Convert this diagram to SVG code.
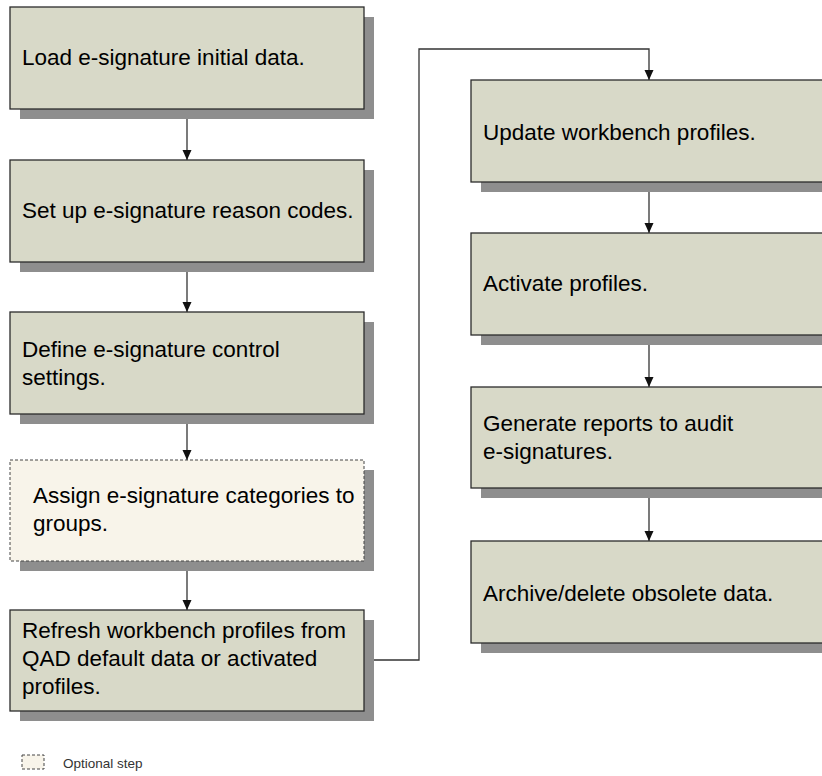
<svg xmlns="http://www.w3.org/2000/svg" width="822" height="776" viewBox="0 0 822 776">
<defs>
<style>
.box{fill:#D8D9C8;stroke:#2b2b2b;stroke-width:1.3}
.opt{fill:#F8F4EA;stroke:#444;stroke-width:1;stroke-dasharray:3 2}
.sh{fill:#8E8E8E}
.t{font-family:"Liberation Sans",Arial,sans-serif;font-size:22.5px;fill:#000}
.lg{font-family:"Liberation Sans",Arial,sans-serif;font-size:13.5px;fill:#333}
.c{fill:none;stroke:#333;stroke-width:1.3}
</style>
<marker id="ah" markerWidth="11" markerHeight="11" refX="10" refY="5.5" orient="auto" markerUnits="userSpaceOnUse">
<path d="M0,1 L10,5.5 L0,10 Z" fill="#111"/>
</marker>
</defs>
<rect width="822" height="776" fill="#fff"/>

<g id="connectors">
<line class="c" x1="187" y1="109" x2="187" y2="160" marker-end="url(#ah)"/>
<line class="c" x1="187" y1="262" x2="187" y2="312" marker-end="url(#ah)"/>
<line class="c" x1="187" y1="414" x2="187" y2="460" marker-end="url(#ah)"/>
<line class="c" x1="187" y1="561" x2="187" y2="610" marker-end="url(#ah)"/>
<polyline class="c" points="364,660 419,660 419,49 649,49 649,80" marker-end="url(#ah)"/>
<line class="c" x1="649" y1="182" x2="649" y2="233" marker-end="url(#ah)"/>
<line class="c" x1="649" y1="335" x2="649" y2="387" marker-end="url(#ah)"/>
<line class="c" x1="649" y1="488" x2="649" y2="541" marker-end="url(#ah)"/>
</g>

<g id="n1">
<rect class="sh" x="20" y="17" width="354" height="102"/>
<rect class="box" x="10" y="7" width="354" height="102"/>
<text class="t" x="22" y="65">Load e-signature initial data.</text>
</g>
<g id="n2">
<rect class="sh" x="20" y="170" width="354" height="102"/>
<rect class="box" x="10" y="160" width="354" height="102"/>
<text class="t" x="22" y="218">Set up e-signature reason codes.</text>
</g>
<g id="n3">
<rect class="sh" x="20" y="322" width="354" height="102"/>
<rect class="box" x="10" y="312" width="354" height="102"/>
<text class="t" x="22" y="357">Define e-signature control</text>
<text class="t" x="22" y="385">settings.</text>
</g>
<g id="n4">
<rect class="sh" x="20" y="470" width="354" height="101"/>
<rect class="opt" x="10" y="460" width="354" height="101"/>
<text class="t" x="33" y="503">Assign e-signature categories to</text>
<text class="t" x="33" y="531">groups.</text>
</g>
<g id="n5">
<rect class="sh" x="20" y="620" width="354" height="101"/>
<rect class="box" x="10" y="610" width="354" height="101"/>
<text class="t" x="22" y="638">Refresh workbench profiles from</text>
<text class="t" x="22" y="666">QAD default data or activated</text>
<text class="t" x="22" y="694">profiles.</text>
</g>

<g id="r1">
<rect class="sh" x="481" y="90" width="360" height="102"/>
<rect class="box" x="471" y="80" width="360" height="102"/>
<text class="t" x="483" y="140">Update workbench profiles.</text>
</g>
<g id="r2">
<rect class="sh" x="481" y="243" width="360" height="102"/>
<rect class="box" x="471" y="233" width="360" height="102"/>
<text class="t" x="483" y="291">Activate profiles.</text>
</g>
<g id="r3">
<rect class="sh" x="481" y="397" width="360" height="101"/>
<rect class="box" x="471" y="387" width="360" height="101"/>
<text class="t" x="483" y="431">Generate reports to audit</text>
<text class="t" x="483" y="459">e-signatures.</text>
</g>
<g id="r4">
<rect class="sh" x="481" y="551" width="360" height="102"/>
<rect class="box" x="471" y="541" width="360" height="102"/>
<text class="t" x="483" y="601">Archive/delete obsolete data.</text>
</g>

<g id="legend">
<rect class="opt" x="22" y="755" width="22" height="14"/>
<text class="lg" x="63" y="768">Optional step</text>
</g>
</svg>
